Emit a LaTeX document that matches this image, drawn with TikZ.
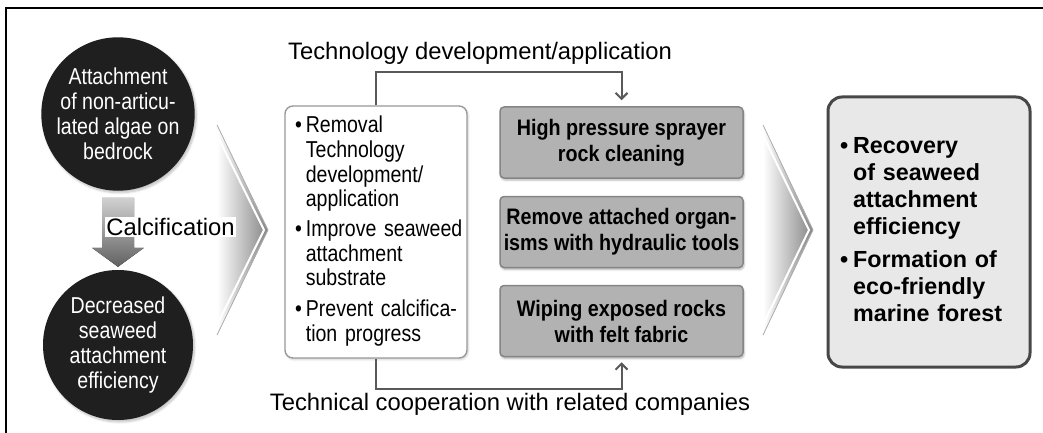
\documentclass[tikz,border=0pt]{standalone}
\usepackage{fontspec}
\setmainfont{Liberation Sans}
\newfontfamily\narrowfont[FakeStretch=0.85]{Liberation Sans}
\newfontfamily\narrowbold[FakeStretch=0.88]{Liberation Sans Bold}
\usetikzlibrary{arrows.meta,shadows.blur,calc}

\begin{document}
\begin{tikzpicture}[x=1pt,y=-1pt,
  disc/.style={circle, fill=black!88, text=white, minimum size=150,
    inner sep=0pt, align=center,
    font=\narrowfont\fontsize{23}{25}\selectfont,
    blur shadow={shadow xshift=1.5pt, shadow yshift=-2pt,
      shadow blur steps=6, shadow opacity=25}},
  listbox/.style={draw=black!40, line width=1.4pt, fill=white,
    rounded corners=8pt, minimum width=182, minimum height=252,
    inner xsep=10pt, text width=162, align=left,
    font=\narrowfont\fontsize{23}{24.7}\selectfont,
    blur shadow={shadow xshift=1pt, shadow yshift=-1.5pt,
      shadow blur steps=4, shadow opacity=20}},
  method/.style={draw=black!48, line width=1.5pt, fill=black!30,
    rounded corners=4pt, minimum width=243, minimum height=71,
    inner sep=0pt, align=center,
    font=\narrowbold\fontsize{22.4}{26}\selectfont,
    blur shadow={shadow xshift=1pt, shadow yshift=-2pt,
      shadow blur steps=5, shadow opacity=30}},
  resultbox/.style={draw=black!72, line width=3pt, fill=black!9,
    rounded corners=14pt, minimum width=202, minimum height=270,
    inner xsep=12pt, text width=178, align=left,
    font=\bfseries\fontsize{23.3}{27}\selectfont},
  caption/.style={font=\fontsize{23.8}{26}\selectfont, inner sep=1pt},
  flow/.style={draw=black!65, line width=2pt,
    -{Straight Barb[length=6pt,width=12pt,line width=2pt]}},
  chevron/.style={left color=white, right color=black!48},
]
\useasboundingbox (0,0) rectangle (1043,433);

% open frame: top and left edges only
\draw[line width=1.8pt] (6,433) -- (6,8) -- (1043,8);

% large chevrons between the stages
\fill[chevron] (217,125) -- (268,230) -- (217,335) -- cycle;
\draw[black!30, line width=0.8pt] (217,125) -- (268,230) -- (217,335);
\draw[white, line width=2pt] (213,127) -- (264,230) -- (213,333);
\fill[chevron] (763,125) -- (813,230) -- (763,335) -- cycle;
\draw[black!30, line width=0.8pt] (763,125) -- (813,230) -- (763,335);
\draw[white, line width=2pt] (759,127) -- (809,230) -- (759,333);

% cause -> effect circles
\node[disc] (c1) at (118,114) {Attachment\\of non-articu-\\lated algae on\\bedrock};
\node[disc] (c2) at (118,345) {Decreased\\seaweed\\attachment\\efficiency};

% shaded down arrow joining the circles
\coordinate (a0) at ($(c1.south)+(0,7)$);
\coordinate (a1) at ($(c2.north)+(0,-3)$);
\fill[top color=black!18, bottom color=black!62]
  ($(a0)+(-16,0)$) -- ($(a0)+(16,0)$) -- ($(a1)+(16,-19)$) -- ($(a1)+(26,-19)$)
  -- (a1) -- ($(a1)+(-26,-19)$) -- ($(a1)+(-16,-19)$) -- cycle;
\node[caption, fill=white] (calc) at (170.5,227) {Calcification};

% measures
\node[listbox] (tech) at (376,232) {%
  \begin{tabular}{@{}l@{\hspace{4pt}}l@{}}
  \textbullet & Removal\\
   & Technology\\
   & development/\\
   & application\\[5pt]
  \textbullet & Improve seaweed\\
   & attachment\\
   & substrate\\[6pt]
  \textbullet & Prevent calcifica-\\
   & tion progress
  \end{tabular}};

\node[method] (b1) at (621.5,142.5) {High pressure sprayer\\rock cleaning};
\node[method] (b2) at (621.5,232) {Remove attached organ-\\isms with hydraulic tools};
\node[method] (b3) at (621.5,321) {Wiping exposed rocks\\with felt fabric};

% expected results
\node[resultbox] (res) at (929,232) {%
  \begin{tabular}{@{}l@{\hspace{5pt}}l@{}}
  \textbullet & Recovery\\
   & of seaweed\\
   & attachment\\
   & efficiency\\[6pt]
  \textbullet & Formation of\\
   & eco-friendly\\
   & marine forest
  \end{tabular}};

% feedback brackets
\draw[flow, shorten >=6pt] (tech.north) -- ++(0,-33) -| (b1.north);
\draw[flow, shorten >=5pt] (tech.south) -- ++(0,30) -| (b3.south);
\node[caption] (top) at (480,53) {Technology development/application};
\node[caption] (bot) at (510,404) {Technical cooperation with related companies};
\end{tikzpicture}
\end{document}
